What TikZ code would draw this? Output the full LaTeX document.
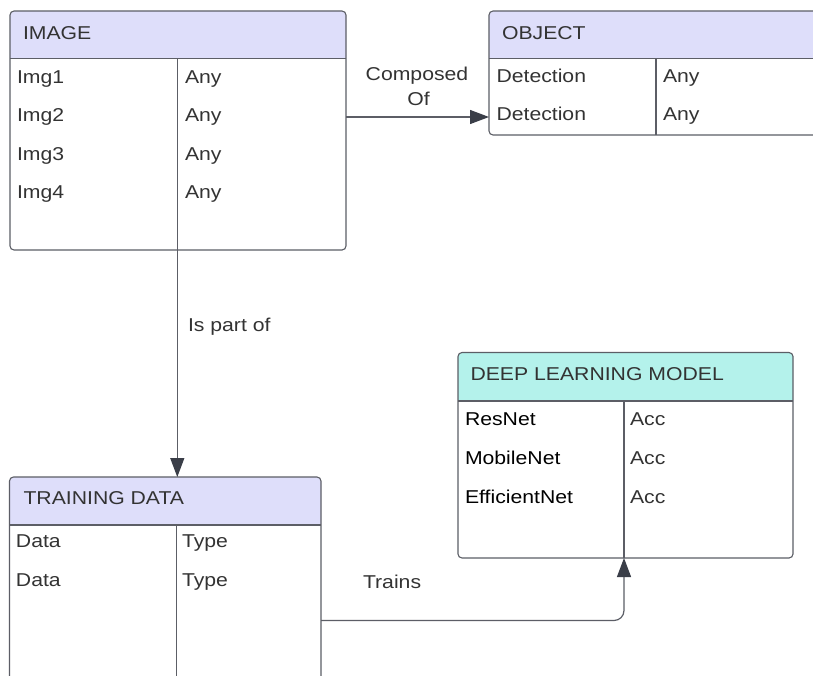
\documentclass[tikz,border=0pt]{standalone}
\usepackage{fontspec}
\setmainfont{Liberation Sans}[FakeStretch=1.14]
\usetikzlibrary{arrows.meta}

\definecolor{hdrlav}{RGB}{222,222,250}
\definecolor{hdrteal}{RGB}{180,242,235}
\definecolor{edge}{RGB}{92,94,102}
\definecolor{tipfill}{RGB}{58,62,72}
\definecolor{ink}{RGB}{51,51,51}

% entity table: name, left, top, right, bottom, header bottom, divider x, header colour
\newcommand\ertable[8]{%
  \coordinate (#1-nw) at (#2,#3);
  \coordinate (#1-se) at (#4,#5);
  \fill[#8] (#2,#6) [rounded corners=4] -- (#2,#3) -- (#4,#3) [sharp corners] -- (#4,#6) -- cycle;
  \draw[tableline, rounded corners=4] (#1-nw) rectangle (#1-se);
  \draw[tableline] (#2,#6) -- (#4,#6);
  \draw[tableline] (#7,#6) -- (#7,#5);
}

\begin{document}
\begin{tikzpicture}[x=1pt,y=-1pt,
  every node/.style={inner sep=0pt, outer sep=0pt, anchor=base west,
    font=\fontsize{18.6}{22}\selectfont, text=ink},
  tableline/.style={draw=edge, line width=1.1pt},
  link/.style={draw=edge, line width=1.2pt},
  tip/.style={-{Triangle[length=19pt,width=14pt,fill=tipfill,color=tipfill]}},
  strong/.style={text=black}]
\useasboundingbox[fill=white] (0,0) rectangle (813,675);

% IMAGE
\ertable{img}{10}{11}{346}{250}{58.7}{177.3}{hdrlav}
\node (imgT) at (23,39.3) {IMAGE};
\node (img1) at (17,83.3) {Img1};   \node (img1t) at (185,83.3) {Any};
\node (img2) at (17,121.7) {Img2};  \node (img2t) at (185,121.7) {Any};
\node (img3) at (17,160) {Img3};    \node (img3t) at (185,160) {Any};
\node (img4) at (17,198.3) {Img4};  \node (img4t) at (185,198.3) {Any};

% OBJECT
\ertable{obj}{489}{11}{830}{135}{58.7}{656}{hdrlav}
\node (objT) at (502,39.3) {OBJECT};
\node (obj1) at (496.5,82.3) {Detection};  \node (obj1t) at (663,82.3) {Any};
\node (obj2) at (496.5,120.7) {Detection}; \node (obj2t) at (663,120.7) {Any};

% DEEP LEARNING MODEL
\ertable{dlm}{458}{352.5}{793}{558}{401}{624}{hdrteal}
\node (dlmT) at (470.5,380) {DEEP LEARNING MODEL};
\node[strong] (dlm1) at (465,425) {ResNet};       \node (dlm1t) at (630,425) {Acc};
\node[strong] (dlm2) at (465,464.3) {MobileNet};  \node (dlm2t) at (630,464.3) {Acc};
\node[strong] (dlm3) at (465,503.7) {EfficientNet}; \node (dlm3t) at (630,503.7) {Acc};

% TRAINING DATA
\ertable{trn}{9.5}{477}{321}{700}{525}{176.5}{hdrlav}
\node (trnT) at (23.5,504) {TRAINING DATA};
\node (trn1) at (16,547.3) {Data}; \node (trn1t) at (182,547.3) {Type};
\node (trn2) at (16,586) {Data};   \node (trn2t) at (182,586) {Type};

% relationships
\coordinate (imgOut) at (346,117);
\coordinate (objIn) at (489,117);
\draw[link, tip] (imgOut) -- (objIn);
\node[anchor=base] (lblComp) at (417,80) {Composed};
\node[anchor=base] (lblOf) at (418.5,105) {Of};

\coordinate (imgDown) at (177.3,250);
\coordinate (trnIn) at (177.3,477);
\draw[link, tip] (imgDown) -- (trnIn);
\node (lblPart) at (188,331) {Is part of};

\coordinate (trnOut) at (321,620.5);
\coordinate (dlmIn) at (624,558);
\draw[link, tip, rounded corners=10] (trnOut) -- (624,620.5) -- (dlmIn);
\node (lblTrain) at (363,588) {Trains};
\end{tikzpicture}
\end{document}
